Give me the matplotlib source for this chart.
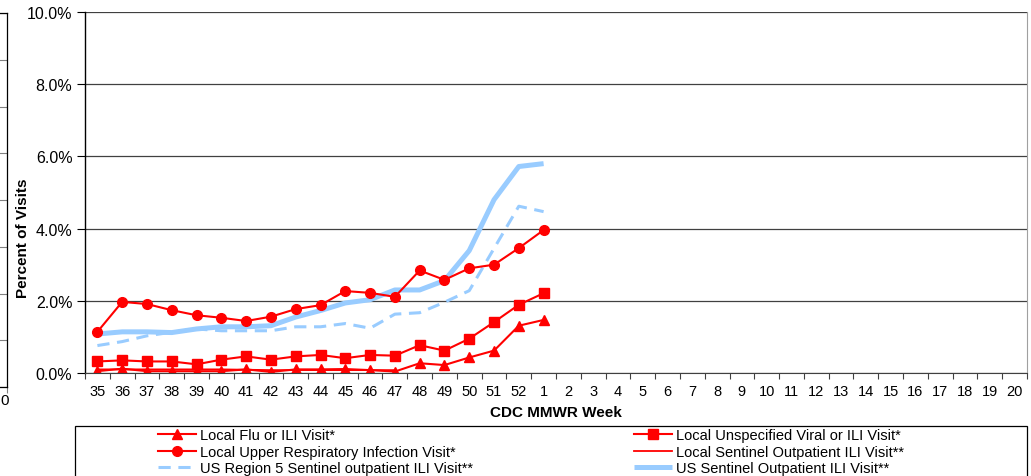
import numpy as np
import matplotlib
matplotlib.use("Agg")
import matplotlib.pyplot as plt
from matplotlib.patches import Rectangle
from matplotlib.ticker import FuncFormatter

plt.rcParams["font.family"] = ["Liberation Sans", "DejaVu Sans"]

# CDC MMWR weeks on the x axis
weeks = [str(w) for w in range(35, 53)] + [str(w) for w in range(1, 21)]

# percent of visits, week 35 through week 1
flu_ili = [0.05, 0.12, 0.05, 0.05, 0.05, 0.05, 0.10, 0.03, 0.10, 0.10, 0.11, 0.08, 0.04,
           0.27, 0.22, 0.43, 0.62, 1.31, 1.47]
uri = [1.14, 1.97, 1.91, 1.74, 1.60, 1.53, 1.44, 1.56, 1.77, 1.88, 2.27, 2.22, 2.11,
       2.84, 2.58, 2.90, 3.00, 3.46, 3.96]
unspec_viral = [0.32, 0.35, 0.32, 0.32, 0.24, 0.37, 0.46, 0.37, 0.46, 0.50, 0.41, 0.50, 0.48,
                0.77, 0.62, 0.95, 1.41, 1.89, 2.21]
local_sentinel = [0.10, 0.10, 0.10, 0.10, 0.10, 0.10, 0.09, 0.08, 0.08, 0.08, 0.08, 0.08, 0.08]
us_region5 = [0.76, 0.87, 1.03, 1.13, 1.22, 1.17, 1.17, 1.17, 1.28, 1.28, 1.37, 1.24, 1.63,
              1.67, 1.96, 2.28, 3.45, 4.62, 4.47]
us_sentinel = [1.08, 1.14, 1.14, 1.12, 1.22, 1.28, 1.28, 1.31, 1.55, 1.73, 1.94, 2.03, 2.30,
               2.30, 2.56, 3.39, 4.80, 5.72, 5.80]

red = "#FF0000"
blue = "#99CCFF"

W, H = 1031, 477
fig = plt.figure(figsize=(W / 100, H / 100), dpi=100)

# leftover edge of a neighbouring chart
ax0 = fig.add_axes([-0.3, (H - 388) / H, 0.3 + 7 / W, (388 - 14) / H])
ax0.set_ylim(0, 8)
ax0.set_yticks(range(9))
ax0.set_yticklabels([])
ax0.tick_params(axis="y", length=0)
ax0.grid(axis="y", color="#808080", linewidth=0.8)
ax0.set_xticks([1])
ax0.set_xticklabels([""])
ax0.set_xlim(0, 1)
ax0.tick_params(axis="x", length=4, color="#808080")
for s in ax0.spines.values():
    s.set_color("black")
    s.set_linewidth(0.9)
fig.text(0.5 / W, 1 - 401 / H, "0", fontsize=11, va="center", ha="left")

# main chart
ax = fig.add_axes([85 / W, (H - 374) / H, (1027 - 85) / W, (374 - 13) / H])
x = np.arange(len(weeks))

l1, = ax.plot(np.arange(len(us_sentinel)), us_sentinel, color=blue, linewidth=3.6,
              solid_capstyle="butt", label="US Sentinel Outpatient ILI Visit**")
l2, = ax.plot(np.arange(len(us_region5)), us_region5, color=blue, linewidth=2.2,
              dashes=(4, 2.5), label="US Region 5 Sentinel outpatient ILI Visit**")
l3, = ax.plot(np.arange(len(local_sentinel)), local_sentinel, color=red, linewidth=1.3,
              label="Local Sentinel Outpatient ILI Visit**")
l4, = ax.plot(np.arange(len(uri)), uri, color=red, linewidth=1.5, marker="o", markersize=7,
              label="Local Upper Respiratory Infection Visit*")
l5, = ax.plot(np.arange(len(unspec_viral)), unspec_viral, color=red, linewidth=1.5, marker="s",
              markersize=7, label="Local Unspecified Viral or ILI Visit*")
l6, = ax.plot(np.arange(len(flu_ili)), flu_ili, color=red, linewidth=1.5, marker="^",
              markersize=7.5, label="Local Flu or ILI Visit*")

# axes formatting
ax.set_xlim(-0.5, len(weeks) - 0.5)
ax.set_ylim(0, 10)
ax.set_yticks(np.arange(0, 10.1, 2))
ax.yaxis.set_major_formatter(FuncFormatter(lambda v, pos: f"{v:.1f}%"))
ax.set_xticks(np.arange(-0.5, len(weeks), 1))
ax.set_xticklabels([])
ax.set_xticks(x, minor=True)
ax.set_xticklabels(weeks, minor=True, fontsize=10.5)
ax.tick_params(axis="x", which="minor", length=0, pad=8)
ax.tick_params(axis="x", which="major", length=4, direction="out", color="#404040")
ax.tick_params(axis="y", length=6, direction="out", labelsize=11.5, pad=3)
ax.grid(axis="y", color="#404040", linewidth=0.9)
ax.set_axisbelow(True)
ax.spines["top"].set_visible(False)
ax.spines["right"].set_color("#a0a0a0")
ax.spines["left"].set_linewidth(1.0)
ax.spines["bottom"].set_color("#404040")

ax.set_xlabel("CDC MMWR Week", fontsize=11, fontweight="bold", labelpad=5)
ax.set_ylabel("Percent of Visits", fontsize=11, fontweight="bold")
ax.yaxis.set_label_coords(-0.058, 0.377)

# legend box, cut off at the bottom of the image
fig.patches.append(Rectangle((75 / W, -0.1), (1027 - 75) / W, 0.1 + (H - 427) / H,
                             transform=fig.transFigure, fill=False, edgecolor="black",
                             linewidth=0.9))
fig.legend([l6, l4, l2, l5, l3, l1],
           [h.get_label() for h in [l6, l4, l2, l5, l3, l1]],
           ncol=2, loc="upper left", bbox_to_anchor=(158 / W, 1 - 429 / H),
           frameon=False, fontsize=10.5, handlelength=2.6, handletextpad=0.3,
           columnspacing=11.0, labelspacing=0.18, borderpad=0, borderaxespad=0)

plt.savefig("out.png", dpi=100)
